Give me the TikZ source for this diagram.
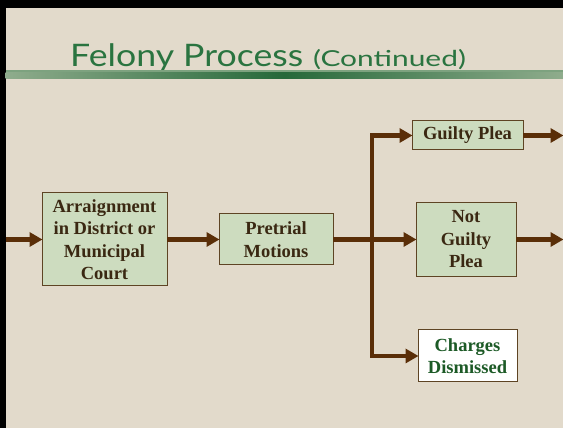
\documentclass[tikz,border=0pt]{standalone}
\usepackage{fontspec}
\usepackage{graphicx}
\setmainfont{Liberation Serif}
\newfontfamily\titlefont{Lato}
\usetikzlibrary{arrows.meta}
\definecolor{bg}{HTML}{E2DACB}
\definecolor{boxfill}{HTML}{CDDCBF}
\definecolor{boxline}{HTML}{5E4424}
\definecolor{arrowc}{HTML}{5A2E08}
\definecolor{txtbrown}{HTML}{3A2812}
\definecolor{txtgreen}{HTML}{1C5A26}
\definecolor{titlegreen}{HTML}{2A7440}
\tikzset{
  x=1pt, y=1pt,
  box/.style={draw=boxline, line width=1pt, fill=boxfill, text=txtbrown,
    font=\fontsize{18.5}{22.5}\selectfont\bfseries, align=center,
    inner sep=0pt, outer sep=0pt},
  wbox/.style={box, fill=white, text=txtgreen},
  conn/.style={draw=arrowc, line width=4.5pt},
  arr/.style={conn, -{Triangle[length=13pt,width=14pt]}, shorten >=-0.5pt},
}
\begin{document}
\begin{tikzpicture}
\useasboundingbox (0,0) rectangle (563,428);
\fill[bg] (0,0) rectangle (563,428);
% frame
\fill[black] (0,420) rectangle (563,428);
\fill[black] (0,0) rectangle (5.5,428);
% title
\node[anchor=base west, inner sep=0pt, text=titlegreen] (title) at (70,361)
  {\titlefont\scalebox{1.15}[1]{\fontsize{31}{31}\selectfont Felony Process}\hspace{10pt}\scalebox{1.36}[1]{\fontsize{22}{22}\selectfont (Continued)}};
% underline
\fill[color=titlegreen!55!bg] (5.5,356) rectangle (563,358);
\shade[left color=titlegreen!45!bg, right color=titlegreen!45!bg, middle color=titlegreen!90!black]
  (5.5,349) rectangle (563,355);
% boxes
\node[box, minimum width=125pt, minimum height=93pt] (arr) at (104.5,188.5)
  {Arraignment\\in District or\\Municipal\\Court};
\node[box, minimum width=114pt, minimum height=51pt] (pre) at (276,188.5)
  {Pretrial\\Motions};
\node[box, minimum width=111pt, minimum height=29pt] (gp) at (467.5,292.5)
  {Guilty Plea};
\node[box, minimum width=100pt, minimum height=74pt] (ngp) at (466,188.5)
  {Not\\Guilty\\Plea};
\node[wbox, minimum width=99pt, minimum height=52pt] (cd) at (467.5,72)
  {Charges\\Dismissed};
% connector coordinates
\coordinate (in) at (5.5,188.5);
\coordinate (tmid) at (372,188.5);
\coordinate (ttop) at (372,292.5);
\coordinate (tbot) at (372,72);
\coordinate (out1) at (563,292.5);
\coordinate (out2) at (563,188.5);
% connectors
\draw[arr] (in) -- (arr.west);
\draw[arr] (arr.east) -- (pre.west);
\draw[conn] (pre.east) -- (tmid);
\draw[conn, line cap=rect] (ttop) -- (tbot);
\draw[arr] (ttop) -- (gp.west);
\draw[arr] (tmid) -- (ngp.west);
\draw[arr] (tbot) -- (cd.west);
\draw[arr] (gp.east) -- (out1);
\draw[arr] (ngp.east) -- (out2);
\end{tikzpicture}
\end{document}
